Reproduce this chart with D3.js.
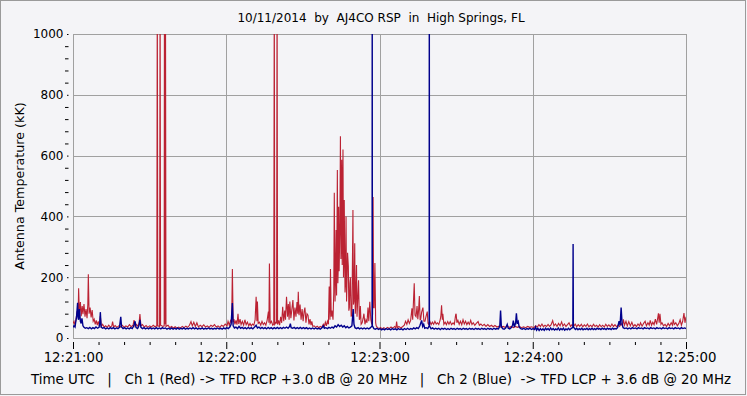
<!DOCTYPE html>
<html>
<head>
<meta charset="utf-8">
<script src="https://cdn.jsdelivr.net/npm/d3@7"></script>
<style>
  body { margin: 0; background: #f4f4f7; }
  svg { display: block; }
  text { font-family: "DejaVu Sans", sans-serif; fill: #000; white-space: pre; }
</style>
</head>
<body>
<div id="chart"></div>
<script>
// seconds after 12:21:00 UTC, antenna temperature in kK
const redData = [[0,48],[0.4,55],[0.8,42],[1.2,62],[1.6,88],[2.0,70],[2.2,164],[2.5,80],[2.9,118],[3.2,72],[3.6,105],[3.9,78],[4.3,112],[4.7,70],[5.1,95],[5.5,65],[5.8,110],[6.0,210],[6.3,80],[6.7,100],[7.1,68],[7.5,92],[7.9,55],[8.3,62],[8.7,45],[9.1,58],[9.5,42],[9.9,55],[10.3,40],[10.7,72],[11.1,38],[11.6,45],[12.2,36],[12.8,40],[13.4,35],[14.0,42],[14.6,36],[15.2,40],[15.5,54],[15.9,36],[16.5,41],[17.2,35],[17.9,40],[18.6,36],[19.3,42],[20,35],[20.7,40],[21.4,36],[22.1,44],[22.8,37],[23.5,42],[23.9,59],[24.3,38],[24.9,45],[25.5,38],[25.9,52],[26.2,79],[26.6,40],[27.2,44],[27.9,36],[28.6,41],[29.3,35],[30,40],[30.7,36],[31.4,42],[32.1,37],[32.8,40],[33.0,1200],[33.2,40],[33.9,38],[34.1,1200],[34.3,42],[35.2,38],[35.7,40],[35.8,1200],[36.0,45],[36.2,1200],[36.4,38],[37.2,42],[37.9,34],[38.6,38],[39.3,33],[40,37],[40.7,32],[41.4,36],[42.1,33],[42.8,38],[43.5,34],[44.2,39],[44.9,35],[45.6,42],[46.2,54],[46.7,40],[47.3,52],[47.9,38],[48.5,50],[49.1,36],[49.8,42],[50.5,37],[51.2,43],[51.9,36],[52.6,40],[53.3,35],[54,42],[54.7,38],[55.4,44],[56.1,36],[56.8,40],[57.5,35],[58.2,42],[58.9,38],[59.6,46],[60.3,40],[60.7,55],[61.2,42],[61.8,60],[62.1,48],[62.4,227],[62.7,52],[63.0,62],[63.4,45],[63.8,58],[64.2,44],[64.6,80],[64.9,46],[65.4,62],[65.8,44],[66.3,55],[66.8,42],[67.3,60],[67.8,44],[68.3,52],[68.8,40],[69.3,48],[69.8,40],[70.3,46],[70.8,42],[71.3,60],[71.7,136],[72.0,55],[72.2,120],[72.5,48],[73.0,52],[73.5,42],[74.0,55],[74.5,44],[75.0,50],[75.5,42],[76.0,58],[76.5,87],[76.7,50],[76.9,245],[77.2,48],[77.7,55],[78.2,42],[78.6,45],[78.8,1200],[79.0,45],[79.5,52],[79.7,50],[79.9,1200],[80.1,44],[80.5,58],[80.9,42],[81.3,70],[81.7,50],[82.1,103],[82.5,55],[82.9,90],[83.2,60],[83.6,136],[84.0,70],[84.3,112],[84.6,60],[84.9,120],[85.3,65],[85.7,95],[86.1,125],[86.5,58],[86.9,100],[87.3,70],[87.7,118],[88.0,80],[88.2,152],[88.5,75],[88.9,110],[89.3,60],[89.7,95],[90.1,55],[90.5,88],[90.8,100],[91.2,50],[91.6,80],[92.0,75],[92.4,45],[92.8,62],[93.2,42],[93.5,55],[93.9,38],[94.4,40],[95,35],[95.6,39],[96.2,34],[96.8,38],[97.4,35],[98,45],[98.4,38],[98.8,52],[99.2,40],[99.6,55],[100.0,45],[100.3,169],[100.6,60],[100.8,227],[101.1,70],[101.4,90],[101.8,60],[102.1,150],[102.3,478],[102.6,120],[102.8,200],[103.0,355],[103.2,140],[103.5,553],[103.7,180],[103.9,250],[104.0,432],[104.2,220],[104.5,380],[104.7,664],[104.9,260],[105.0,300],[105.2,586],[105.4,240],[105.7,620],[105.9,200],[106.1,280],[106.2,454],[106.5,150],[106.7,180],[106.9,400],[107.1,120],[107.2,150],[107.5,280],[107.8,235],[108.0,90],[108.2,100],[108.4,180],[108.6,200],[108.9,70],[109.2,80],[109.6,421],[109.8,110],[110.0,120],[110.3,312],[110.5,80],[110.6,90],[111.0,240],[111.2,70],[111.4,110],[111.8,190],[112.1,60],[112.4,70],[112.5,105],[112.8,45],[113.2,50],[113.6,65],[113.9,80],[114.3,45],[114.7,60],[115.1,50],[115.5,100],[115.8,55],[116.2,119],[116.6,60],[117.0,45],[117.3,80],[117.5,464],[117.7,100],[117.9,100],[118.2,247],[118.5,50],[118.7,40],[119.2,34],[119.8,31],[120.4,35],[121,30],[121.7,34],[122.4,30],[123.1,35],[123.8,31],[124.5,36],[125.2,32],[125.9,38],[126.4,33],[126.7,54],[127,34],[127.6,38],[128.3,33],[129,37],[129.7,42],[130.2,55],[130.7,45],[131.2,60],[131.7,48],[132.2,58],[132.7,98],[133.0,60],[133.3,120],[133.6,180],[133.9,75],[134.3,70],[134.7,105],[135.0,62],[135.3,90],[135.6,138],[135.9,60],[136.1,60],[136.5,85],[137.0,100],[137.4,55],[137.8,55],[138.2,70],[138.7,87],[139.0,48],[139.2,45],[139.7,55],[140.2,44],[140.7,52],[141.2,45],[141.7,55],[142.2,46],[142.7,50],[143.2,44],[143.7,58],[144.0,70],[144.3,108],[144.6,60],[144.8,80],[145.2,45],[145.7,52],[146.2,44],[146.7,54],[147.2,45],[147.7,54],[148.2,44],[148.8,50],[149.3,45],[149.8,76],[150.0,80],[150.3,50],[150.7,58],[151.2,45],[151.7,55],[152.2,44],[152.7,60],[153.2,46],[153.7,55],[154.2,44],[154.7,52],[155.2,45],[155.7,58],[156.2,44],[156.7,50],[157.3,42],[157.9,48],[158.6,54],[159.1,42],[159.7,46],[160.3,40],[161,45],[161.7,38],[162.4,44],[163.1,38],[163.8,42],[164.5,37],[165.2,41],[166,36],[166.8,39],[167.6,35],[168.4,38],[169.2,35],[170,39],[170.8,35],[171.6,38],[172.4,34],[173.2,38],[174,35],[174.8,38],[175.6,34],[176.4,37],[177.2,34],[178,38],[178.8,35],[179.6,37],[180.4,34],[181.2,40],[181.8,36],[182.4,44],[183,38],[183.6,46],[184.2,37],[184.8,42],[185.4,38],[186,45],[186.6,38],[187.2,44],[187.8,57],[188.3,40],[188.9,46],[189.5,38],[190.1,48],[190.7,40],[191.3,53],[191.8,39],[192.4,46],[193,38],[193.6,44],[194.2,50],[194.8,38],[195.4,44],[196,38],[196.6,46],[197.2,37],[197.8,44],[198.4,38],[199,45],[199.6,37],[200.2,43],[200.8,38],[201.4,46],[202,37],[202.6,42],[203.2,37],[203.8,45],[204.4,38],[205,42],[205.6,36],[206.2,44],[206.8,37],[207.4,42],[208,36],[208.6,45],[209.2,38],[209.8,43],[210.4,37],[211,46],[211.6,38],[212.2,44],[212.8,37],[213.4,42],[214,38],[214.6,48],[215.1,40],[215.5,61],[215.9,42],[216.5,55],[217,40],[217.6,54],[218.2,40],[218.8,52],[219.4,38],[220,44],[220.6,38],[221.2,46],[221.8,40],[222.2,50],[222.8,39],[223.4,48],[224,55],[224.5,40],[225.1,50],[225.6,42],[226,58],[226.5,42],[227,52],[227.5,44],[228,62],[228.5,45],[229,70],[229.2,81],[229.5,50],[229.8,80],[230.2,45],[230.6,50],[231.2,40],[231.8,45],[232.4,38],[233,48],[233.6,40],[234.2,50],[234.7,42],[235,61],[235.4,44],[236,50],[236.6,40],[237.2,48],[237.7,60],[238.2,42],[238.7,55],[239.2,82],[239.6,50],[240,70]];

const blueData = [[0,35],[0.4,40],[0.8,36],[1.1,55],[1.4,70],[1.8,116],[2.0,65],[2.2,60],[2.5,95],[2.9,55],[3.2,48],[3.5,65],[3.9,40],[4.3,35],[4.8,32],[5.4,34],[6,31],[6.6,35],[7.2,30],[7.8,34],[8.4,31],[9,36],[9.6,32],[10.2,35],[10.5,50],[10.7,85],[11,36],[11.6,32],[12.2,34],[12.8,30],[13.4,33],[14,30],[14.6,34],[15.2,31],[15.8,34],[16.4,30],[17,33],[17.6,31],[18.2,35],[18.7,70],[19,36],[19.6,31],[20.2,34],[20.8,30],[21.4,33],[22,30],[22.6,34],[23.2,31],[23.8,40],[24.3,55],[24.7,34],[25.3,31],[25.8,40],[26.2,60],[26.6,35],[27.2,31],[27.8,34],[28.4,30],[29,33],[29.6,30],[30.2,34],[30.8,30],[31.4,33],[32,30],[32.6,34],[33.2,30],[33.8,33],[34.4,30],[35,34],[35.6,31],[36.2,33],[36.8,29],[37.4,32],[38,29],[38.6,33],[39.2,29],[39.8,32],[40.4,29],[41,33],[41.6,29],[42.2,32],[42.8,30],[43.4,33],[44,29],[44.6,32],[45.2,30],[45.8,33],[46.4,30],[47,34],[47.6,30],[48.2,33],[48.8,29],[49.4,32],[50,30],[50.6,33],[51.2,29],[51.8,32],[52.4,30],[53,33],[53.6,30],[54.2,32],[54.8,29],[55.4,32],[56,30],[56.6,33],[57.2,30],[57.8,32],[58.4,29],[59,33],[59.6,30],[60.2,34],[60.8,31],[61.4,36],[61.9,45],[62.4,115],[62.7,40],[63.2,33],[63.8,36],[64.4,31],[65,38],[65.6,32],[66.2,35],[66.8,31],[67.4,34],[68,30],[68.6,35],[69.2,31],[69.8,34],[70.4,30],[71,35],[71.7,42],[72.2,33],[72.8,36],[73.4,31],[74,35],[74.6,31],[75.2,34],[75.8,30],[76.4,35],[77,31],[77.6,34],[78.2,30],[78.8,34],[79.4,31],[80,35],[80.6,31],[81.2,34],[81.8,31],[82.4,35],[83,32],[83.6,36],[84.2,32],[84.8,38],[85.1,47],[85.4,34],[86,32],[86.6,35],[87.2,31],[87.8,34],[88.4,31],[89,35],[89.6,31],[90.2,34],[90.8,31],[91.4,34],[92,30],[92.6,33],[93.2,30],[93.8,33],[94.4,30],[95,33],[95.6,30],[96.2,32],[96.8,29],[97.4,33],[98,40],[98.4,32],[99,34],[99.6,31],[100.2,35],[100.8,32],[101.4,36],[102,33],[102.6,40],[103.2,36],[103.8,44],[104.4,38],[105,42],[105.6,36],[106.2,40],[106.8,34],[107.4,38],[108,33],[108.6,36],[109.2,40],[109.7,95],[110,45],[110.4,34],[111,31],[111.6,34],[112.2,30],[112.8,33],[113.4,30],[114,33],[114.6,30],[115.2,33],[115.8,30],[116.4,33],[117.1,40],[117.15,1200],[117.2,40],[117.8,31],[118.4,29],[119,32],[119.6,28],[120.2,31],[120.8,27],[121.4,30],[122,27],[122.6,31],[123.2,28],[123.8,30],[124.4,27],[125,31],[125.6,28],[126.2,30],[126.8,27],[127.4,31],[128,28],[128.6,30],[129.2,27],[129.8,31],[130.4,28],[131,32],[131.6,28],[132.2,31],[132.8,29],[133.4,33],[134,30],[134.6,34],[135.2,31],[135.8,40],[136.5,58],[136.9,38],[137.3,45],[137.7,32],[138.3,34],[138.9,31],[139.45,40],[139.5,1200],[139.55,40],[140.2,30],[140.8,33],[141.4,29],[142,32],[142.6,29],[143.2,32],[143.8,28],[144.4,32],[145,29],[145.6,32],[146.2,28],[146.8,31],[147.4,28],[148,32],[148.6,29],[149.2,31],[149.8,28],[150.4,32],[151,29],[151.6,31],[152.2,28],[152.8,32],[153.4,29],[154,31],[154.6,28],[155.2,32],[155.8,29],[156.4,31],[157,28],[157.6,32],[158.2,29],[158.8,31],[159.4,28],[160,32],[160.6,29],[161.2,31],[161.8,28],[162.4,32],[163,29],[163.6,31],[164.2,28],[164.8,32],[165.4,29],[166,31],[166.6,30],[167.1,40],[167.4,90],[167.7,38],[168.2,31],[168.8,29],[169.4,33],[170,45],[170.4,32],[171,30],[171.6,34],[172.1,42],[172.4,57],[172.8,36],[173.3,50],[173.6,81],[173.9,50],[174.3,55],[174.7,36],[175.3,31],[175.9,29],[176.5,32],[177.1,28],[177.7,31],[178.3,29],[178.9,32],[179.5,28],[180.1,31],[180.7,28],[181.1,36],[181.5,26],[182,32],[182.5,25],[183,31],[183.5,26],[184,30],[184.5,25],[185,32],[185.5,27],[186,31],[186.5,26],[187,33],[187.5,27],[188,31],[188.5,26],[189,30],[189.5,27],[190,33],[190.5,26],[191,31],[191.5,27],[192,32],[192.5,26],[193,30],[193.5,27],[194,32],[194.5,27],[195,31],[195.7,35],[195.8,309],[195.9,36],[196.7,28],[197.2,32],[197.7,27],[198.2,31],[198.7,28],[199.2,32],[199.7,27],[200.2,30],[200.7,28],[201.2,32],[201.7,27],[202.2,31],[202.7,28],[203.2,32],[203.7,28],[204.2,31],[204.7,28],[205.2,32],[205.7,29],[206.2,31],[206.7,28],[207.2,32],[207.7,29],[208.2,31],[208.7,28],[209.2,32],[209.7,29],[210.2,31],[210.7,28],[211.2,32],[211.7,29],[212.2,31],[212.7,30],[213.2,34],[213.8,55],[214.2,42],[214.6,100],[215,45],[215.4,34],[216,31],[216.6,33],[217.2,30],[217.8,33],[218.4,30],[219,34],[219.6,31],[220.2,33],[220.8,30],[221.4,34],[222,31],[222.6,33],[223.2,30],[223.8,34],[224.4,31],[225,33],[225.6,30],[226.2,34],[226.8,31],[227.4,33],[228,30],[228.6,34],[229.2,31],[229.8,33],[230.4,30],[231,34],[231.6,31],[232.2,33],[232.8,30],[233.4,34],[234,31],[234.6,33],[235.2,30],[235.8,34],[236.4,31],[237,33],[237.6,30],[238.2,34],[238.8,31],[239.4,33],[240,31]];

const xTickSecs = [0, 60, 120, 180, 240];
const xTickLabels = ["12:21:00", "12:22:00", "12:23:00", "12:24:00", "12:25:00"];
const yTicks = [0, 200, 400, 600, 800, 1000];

const titleText = "10/11/2014  by  AJ4CO RSP  in  High Springs, FL";
const yLabel = "Antenna Temperature (kK)";
const caption = "Time UTC   |   Ch 1 (Red) -> TFD RCP +3.0 dB @ 20 MHz   |   Ch 2 (Blue)  -> TFD LCP + 3.6 dB @ 20 MHz";

const svgWidth = 747;
const svgHeight = 396;
const plot = { left: 73, right: 686, top: 34, bottom: 338 };
const gridColor = "#a0a0a0";

const svg = d3.select("#chart")
  .append("svg")
  .attr("width", svgWidth)
  .attr("height", svgHeight);

// outer frame
svg.append("rect")
  .attr("x", 0.5).attr("y", 0.5)
  .attr("width", svgWidth - 2).attr("height", svgHeight - 2)
  .attr("fill", "#f4f4f7")
  .attr("stroke", "#9a9a9a");

const x = d3.scaleLinear().domain([0, 240]).range([plot.left, plot.right]);
const y = d3.scaleLinear().domain([0, 1000]).range([plot.bottom, plot.top]);

// grid
svg.append("g")
  .selectAll("line")
  .data(yTicks.slice(1, -1))
  .join("line")
  .attr("x1", plot.left).attr("x2", plot.right)
  .attr("y1", d => Math.round(y(d)) + 0.5).attr("y2", d => Math.round(y(d)) + 0.5)
  .attr("stroke", gridColor);

svg.append("g")
  .selectAll("line")
  .data(xTickSecs.slice(1, -1))
  .join("line")
  .attr("x1", d => Math.round(x(d)) + 0.5).attr("x2", d => Math.round(x(d)) + 0.5)
  .attr("y1", plot.top).attr("y2", plot.bottom)
  .attr("stroke", gridColor);

svg.append("rect")
  .attr("x", plot.left + 0.5).attr("y", plot.top + 0.5)
  .attr("width", plot.right - plot.left).attr("height", plot.bottom - plot.top)
  .attr("fill", "none")
  .attr("stroke", gridColor);

// y axis ticks + labels
const yAxis = d3.axisLeft(y)
  .tickValues(d3.range(0, 1001, 40))
  .tickSize(3)
  .tickFormat(d => yTicks.includes(d) ? d : "");
const gy = svg.append("g")
  .attr("transform", `translate(${plot.left - 4.5},0)`)
  .call(yAxis);
gy.select(".domain").remove();
gy.selectAll(".tick line")
  .attr("stroke", "#000")
  .attr("x1", 0)
  .attr("x2", d => yTicks.includes(d) ? -1.5 : -3.5);
gy.selectAll(".tick text")
  .attr("x", -5)
  .style("font-size", "12px");

// x axis ticks + labels
const xAxis = d3.axisBottom(x)
  .tickValues(d3.range(0, 241, 10))
  .tickSize(3)
  .tickFormat(d => xTickSecs.includes(d) ? xTickLabels[xTickSecs.indexOf(d)] : "");
const gx = svg.append("g")
  .attr("transform", `translate(0,${plot.bottom + 4})`)
  .call(xAxis);
gx.select(".domain").remove();
gx.selectAll(".tick line")
  .attr("stroke", "#000")
  .attr("y2", d => xTickSecs.includes(d) ? 7 : 3);
gx.selectAll(".tick text")
  .attr("y", 11)
  .style("font-size", "13.3px");

// series
svg.append("clipPath").attr("id", "plotclip")
  .append("rect")
  .attr("x", plot.left).attr("y", plot.top)
  .attr("width", plot.right - plot.left).attr("height", plot.bottom - plot.top);

const line = d3.line().x(d => x(d[0])).y(d => y(d[1]));

svg.append("path")
  .datum(redData)
  .attr("clip-path", "url(#plotclip)")
  .attr("fill", "none")
  .attr("stroke", "#bb2233")
  .attr("stroke-width", 1.1)
  .attr("d", line);

svg.append("path")
  .datum(blueData)
  .attr("clip-path", "url(#plotclip)")
  .attr("fill", "none")
  .attr("stroke", "#00008c")
  .attr("stroke-width", 1.4)
  .attr("d", line);

// texts
svg.append("text")
  .attr("x", 381).attr("y", 22)
  .attr("text-anchor", "middle")
  .style("font-size", "12px")
  .text(titleText);

svg.append("text")
  .attr("transform", `translate(24, ${(plot.top + plot.bottom) / 2}) rotate(-90)`)
  .attr("text-anchor", "middle")
  .style("font-size", "12.7px")
  .text(yLabel);

svg.append("text")
  .attr("x", 381).attr("y", 384)
  .attr("text-anchor", "middle")
  .style("font-size", "13.4px")
  .text(caption);
</script>
</body>
</html>
